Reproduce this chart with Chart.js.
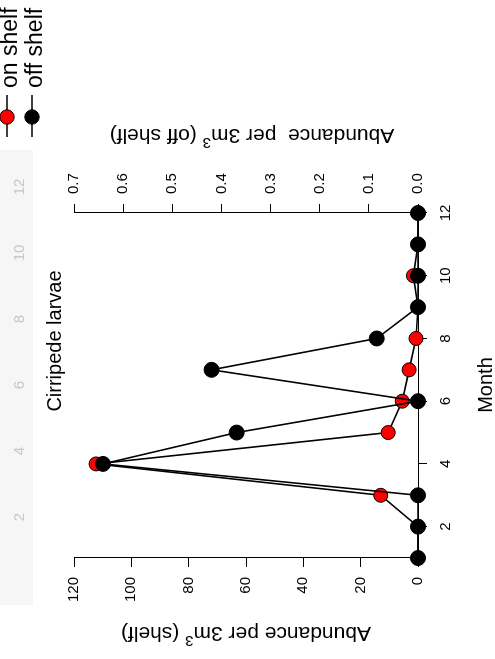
<!DOCTYPE html>
<html>
<head>
<meta charset="utf-8">
<script src="https://cdn.jsdelivr.net/npm/chart.js@4.4.1/dist/chart.umd.min.js"></script>
<style>
  html, body { margin: 0; padding: 0; background: #fff; overflow: hidden; }
  /* the figure is laid out landscape and turned a quarter turn to portrait */
  #wrap {
    position: absolute; left: 0; top: 0;
    width: 659px; height: 495px;
    transform-origin: 0 0;
    transform: translateY(659px) rotate(-90deg);
  }
  canvas { display: block; }
</style>
</head>
<body>
<div id="wrap"><canvas id="c" width="659" height="495"></canvas></div>
<script>
// Monthly abundance of cirripede larvae
const months = [1, 2, 3, 4, 5, 6, 7, 8, 9, 10, 11, 12];
const onShelf = [0, 0, 13, 112.3, 10.4, 5.5, 3.1, 0.7, 0, 1.6, 0, 0];          // per 3 m3
const offShelf = [0, 0, 0, 0.641, 0.369, 0, 0.42, 0.084, 0, 0, 0, 0];          // per 3 m3

const monthTicks = [2, 4, 6, 8, 10, 12];
const shelfTicks = [0, 20, 40, 60, 80, 100, 120];
const offShelfTicks = [0, 0.1, 0.2, 0.3, 0.4, 0.5, 0.6, 0.7];
const upperMonthTicks = [2, 4, 6, 8, 10, 12];   // month axis of the panel above, cut off

const seriesNames = ['on shelf', 'off shelf'];
const chartTitle = 'Cirripede larvae';
const monthTitle = 'Month';
const shelfTitle = ['Abundance per 3m', '3', ' (shelf)'];
const offShelfTitle = ['Abundance  per 3m', '3', ' (off shelf)'];

const FONT = '"Liberation Sans", Arial, Helvetica, sans-serif';

function drawSupTitle(c, parts, cx, cy, size) {
  c.save();
  c.translate(cx, cy);
  c.rotate(-Math.PI / 2);
  const big = size + 'px ' + FONT;
  const small = Math.round(size * 0.7) + 'px ' + FONT;
  c.font = big; const w0 = c.measureText(parts[0]).width;
  c.font = small; const w1 = c.measureText(parts[1]).width;
  c.font = big; const w2 = c.measureText(parts[2]).width;
  let x = -(w0 + w1 + w2) / 2;
  const base = size * 0.358;
  c.fillStyle = '#000';
  c.textBaseline = 'alphabetic';
  c.textAlign = 'left';
  c.font = big; c.fillText(parts[0], x, base); x += w0;
  c.font = small; c.fillText(parts[1], x, base - size * 0.42); x += w1;
  c.font = big; c.fillText(parts[2], x, base);
  c.restore();
}

const decor = {
  id: 'decor',
  beforeDraw(chart) {
    const c = chart.ctx;
    c.save();
    c.fillStyle = '#fff';
    c.fillRect(0, 0, chart.width, chart.height);
    // faint remains of the panel above
    c.fillStyle = '#f6f6f6';
    c.fillRect(54, 0, 455, 33);
    c.fillStyle = '#c6c6c6';
    c.font = '15px ' + FONT;
    c.textAlign = 'center';
    c.textBaseline = 'middle';
    upperMonthTicks.forEach((m, i) => {
      c.fillText(String(m), 142 + (m - 2) * 33, 20);
    });
    c.restore();
  },
  afterDraw(chart) {
    const c = chart.ctx;
    c.save();
    c.fillStyle = '#000';
    c.textBaseline = 'alphabetic';
    c.textAlign = 'center';
    c.font = '20px ' + FONT;
    c.fillText(chartTitle, 318, 61);
    c.fillText(monthTitle, 274, 492);

    drawSupTitle(c, shelfTitle, 24, 246, 21);
    drawSupTitle(c, offShelfTitle, 522, 252, 21);

    // legend
    const rows = [
      { name: seriesNames[0], fill: '#ff0000', y: 7 },
      { name: seriesNames[1], fill: '#000000', y: 32 }
    ];
    rows.forEach(r => {
      c.strokeStyle = '#000';
      c.lineWidth = 1.6;
      c.beginPath(); c.moveTo(522, r.y); c.lineTo(564, r.y); c.stroke();
      c.beginPath(); c.arc(542, r.y, 7.2, 0, Math.PI * 2);
      c.fillStyle = r.fill; c.fill();
      c.lineWidth = 1; c.stroke();
      c.fillStyle = '#000';
      c.font = '23px ' + FONT;
      c.textAlign = 'left';
      c.fillText(r.name, 571, r.y + 9.5);
    });
    c.restore();
  }
};

const axisGrid = { drawOnChartArea: false, drawTicks: true, tickLength: 9, color: '#000', lineWidth: 1 };
const axisBorder = { display: true, color: '#000', width: 1 };
const tickFont = { family: FONT, size: 15 };

new Chart(document.getElementById('c'), {
  type: 'line',
  data: {
    datasets: [
      {
        label: seriesNames[1],
        data: months.map((m, i) => ({ x: m, y: offShelf[i] })),
        yAxisID: 'yOff',
        borderColor: '#000', borderWidth: 1.6,
        pointBackgroundColor: '#000', pointBorderColor: '#000',
        pointRadius: 7.5, pointBorderWidth: 1,
        tension: 0, clip: false, order: 0
      },
      {
        label: seriesNames[0],
        data: months.map((m, i) => ({ x: m, y: onShelf[i] })),
        yAxisID: 'yShelf',
        borderColor: '#000', borderWidth: 1.6,
        pointBackgroundColor: '#ff0000', pointBorderColor: '#000',
        pointRadius: 7, pointBorderWidth: 1,
        tension: 0, clip: false, order: 1
      }
    ]
  },
  options: {
    responsive: false,
    animation: false,
    events: [],
    layout: { padding: { top: 74, left: 0, right: 0, bottom: 0 } },
    plugins: { legend: { display: false }, tooltip: { enabled: false }, title: { display: false } },
    scales: {
      x: {
        type: 'linear', position: 'bottom', min: 1, max: 12,
        afterBuildTicks: s => { s.ticks = monthTicks.map(v => ({ value: v })); },
        afterFit: s => { s.height = 77; },
        grid: axisGrid, border: axisBorder,
        ticks: { color: '#000', font: tickFont, padding: 10, maxRotation: 0, minRotation: 0, autoSkip: false }
      },
      yShelf: {
        type: 'linear', position: 'left', min: 0, max: 120,
        afterBuildTicks: s => { s.ticks = shelfTicks.map(v => ({ value: v })); },
        afterFit: s => { s.width = 101; },
        grid: axisGrid, border: axisBorder,
        ticks: { color: '#000', font: tickFont, padding: 10, autoSkip: false }
      },
      yOff: {
        type: 'linear', position: 'right', min: 0, max: 0.7,
        afterBuildTicks: s => { s.ticks = offShelfTicks.map(v => ({ value: v })); },
        afterFit: s => { s.width = 213; },
        grid: axisGrid, border: axisBorder,
        ticks: { color: '#000', font: tickFont, padding: 10, autoSkip: false, callback: v => Number(v).toFixed(1) }
      }
    }
  },
  plugins: [decor]
});
</script>
</body>
</html>
